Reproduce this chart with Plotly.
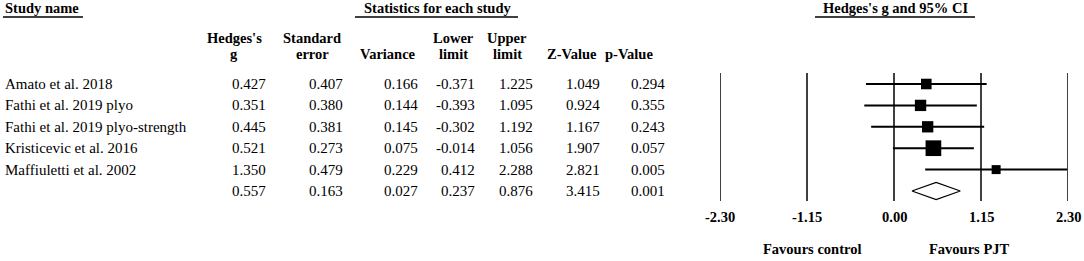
import plotly.graph_objects as go

# ---------------- data ----------------
studies = ["Amato et al. 2018", "Fathi et al. 2019 plyo", "Fathi et al. 2019 plyo-strength",
           "Kristicevic et al. 2016", "Maffiuletti et al. 2002"]
hedges_g = [0.427, 0.351, 0.445, 0.521, 1.350]
std_err = [0.407, 0.380, 0.381, 0.273, 0.479]
variance = [0.166, 0.144, 0.145, 0.075, 0.229]
lower = [-0.371, -0.393, -0.302, -0.014, 0.412]
upper = [1.225, 1.095, 1.192, 1.056, 2.288]
z_value = [1.049, 0.924, 1.167, 1.907, 2.821]
p_value = [0.294, 0.355, 0.243, 0.057, 0.005]

summary = dict(g=0.557, se=0.163, var=0.027, lo=0.237, hi=0.876, z=3.415, p=0.001)

tick_vals = [-2.30, -1.15, 0.00, 1.15, 2.30]
tick_text = ["-2.30", "-1.15", "0.00", "1.15", "2.30"]

col_headers = [("Hedges's", "g"), ("Standard", "error"), ("", "Variance"), ("Lower", "limit"),
               ("Upper", "limit"), ("", "Z-Value"), ("", "p-Value")]

# ---------------- layout helpers ----------------
W, H = 1084, 261
FONT = "Liberation Serif, Times New Roman, serif"
ROW0, ROWSTEP = 84.0, 21.4  # pixel position of first row, row spacing


def py(pix):
    """pixel y -> row coordinate"""
    return (pix - ROW0) / ROWSTEP


def px(pix):
    return pix / W


col_right = [268, 345, 420, 477, 535, 602, 667]
col_center = [234, 312, 388, 453, 507, 572, 629]

fig = go.Figure()

n = len(studies)
rows = list(range(n))

# vertical reference lines
for tv in tick_vals:
    fig.add_shape(type="line", xref="x", yref="y", x0=tv, x1=tv, y0=py(73), y1=py(201),
                  line=dict(color="black", width=1.5))

# CI lines + squares
sizes = [4.3 * (1.0 / v) ** 0.5 for v in variance]
fig.add_trace(go.Scatter(
    x=hedges_g, y=rows, mode="markers",
    marker=dict(symbol="square", size=sizes, color="black", opacity=1, line=dict(width=0)),
    error_x=dict(type="data", symmetric=False,
                 array=[u - g for u, g in zip(upper, hedges_g)],
                 arrayminus=[g - l for g, l in zip(hedges_g, lower)],
                 width=0, thickness=2, color="black"),
    showlegend=False, hoverinfo="skip", cliponaxis=False))

# summary diamond
sr = n
hh = 0.40
fig.add_trace(go.Scatter(
    x=[summary["lo"], summary["g"], summary["hi"], summary["g"], summary["lo"]],
    y=[sr, sr - hh, sr, sr + hh, sr],
    mode="lines", fill="toself", fillcolor="white",
    line=dict(color="black", width=1.2), showlegend=False, hoverinfo="skip"))

ann = []


def text(x, y, s, anchor="left", bold=False, size=15):
    ann.append(dict(x=x, y=y, xref="paper", yref="y", text=(f"<b>{s}</b>" if bold else s),
                    showarrow=False, xanchor=anchor, yanchor="middle",
                    font=dict(family=FONT, size=size, color="black")))


# titles
text(px(3), py(8), "Study name", bold=True, size=14.5)
text(px(437), py(8), "Statistics for each study", anchor="center", bold=True, size=14.5)
text(px(895), py(8), "Hedges's g and 95% CI", anchor="center", bold=True, size=14.5)
for x0, x1 in [(3, 83), (355, 518), (815, 975)]:
    fig.add_shape(type="line", xref="paper", yref="y", x0=px(x0), x1=px(x1),
                  y0=py(17), y1=py(17), line=dict(color="black", width=1.5))

# column headers
for (l1, l2), cx in zip(col_headers, col_center):
    if l1:
        text(px(cx), py(38), l1, anchor="center", bold=True, size=14.5)
    text(px(cx), py(54), l2, anchor="center", bold=True, size=14.5)

# rows
cols = [hedges_g, std_err, variance, lower, upper, z_value, p_value]
for i in rows:
    text(px(3), i, studies[i])
    for c, xr in zip(cols, col_right):
        text(px(xr), i, f"{c[i]:.3f}", anchor="right")
for v, xr in zip([summary[k] for k in ["g", "se", "var", "lo", "hi", "z", "p"]], col_right):
    text(px(xr), sr, f"{v:.3f}", anchor="right")

# tick labels
for tv, tt in zip(tick_vals, tick_text):
    ann.append(dict(x=tv, y=py(217), xref="x", yref="y", text=f"<b>{tt}</b>", showarrow=False,
                    xanchor="center", yanchor="middle",
                    font=dict(family=FONT, size=14.5, color="black")))

text(px(812), py(249), "Favours control", anchor="center", bold=True, size=14.5)
text(px(969), py(249), "Favours PJT", anchor="center", bold=True, size=14.5)

fig.update_layout(
    width=W, height=H, margin=dict(l=0, r=0, t=0, b=0),
    paper_bgcolor="white", plot_bgcolor="white",
    annotations=ann, showlegend=False,
    xaxis=dict(domain=[720 / W, 1068 / W], range=[-2.30, 2.30], visible=False, fixedrange=True),
    yaxis=dict(domain=[0, 1], range=[py(H), py(0)], visible=False, fixedrange=True),
)

fig.write_html("out.html", config={"displayModeBar": False},
               post_script="document.body.style.margin='0';document.body.style.overflow='hidden';")
